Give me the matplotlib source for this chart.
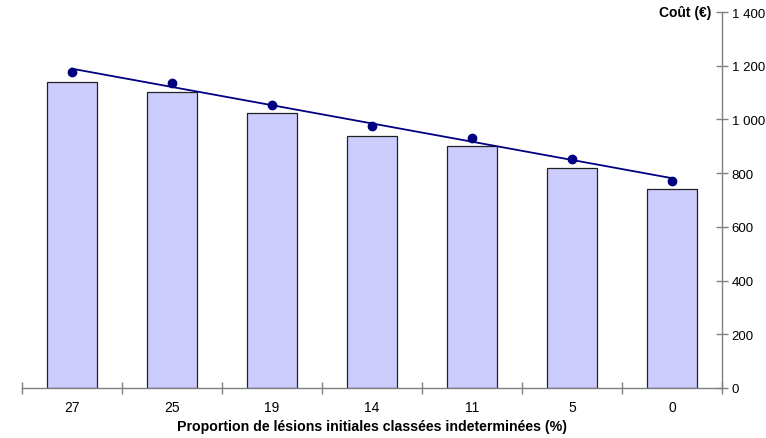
import matplotlib
matplotlib.use("Agg")
import matplotlib.pyplot as plt
from matplotlib.ticker import FuncFormatter, FixedLocator, NullFormatter
import numpy as np

plt.rcParams['font.family'] = ['Liberation Sans', 'DejaVu Sans']

categories = ["27", "25", "19", "14", "11", "5", "0"]
bar_costs = [1139, 1102, 1024, 938, 901, 819, 741]
point_costs = [1176, 1135, 1054, 975, 931, 853, 771]
y_ticks = [0, 200, 400, 600, 800, 1000, 1200, 1400]

fig = plt.figure(figsize=(7.66, 4.39), dpi=100)
ax = fig.add_axes([22 / 766, 1 - 389 / 439, 700 / 766, 376 / 439])

x = np.arange(len(categories))
ax.bar(x, bar_costs, width=0.5, color="#CCCCFF", edgecolor="#222222",
       linewidth=0.9, zorder=2)

# linear trend through the point series
slope, intercept = np.polyfit(x, point_costs, 1)
ax.plot(x, slope * x + intercept, color="#000080", linewidth=1.3, zorder=3)
ax.plot(x, point_costs, linestyle="none", marker="o", markersize=6,
        color="#000080", zorder=4)

ax.set_xlim(-0.5, len(categories) - 0.5)
ax.set_ylim(0, 1400)

for s in ("top", "left"):
    ax.spines[s].set_visible(False)
for s in ("bottom", "right"):
    ax.spines[s].set_color("#808080")
    ax.spines[s].set_linewidth(1.0)

ax.yaxis.tick_right()
ax.set_yticks(y_ticks)
ax.yaxis.set_major_formatter(FuncFormatter(lambda v, p: f"{int(v):,}".replace(",", " ")))
ax.tick_params(axis="y", direction="inout", length=8, width=1.0, color="#808080",
               labelsize=9.5, pad=3)

ax.xaxis.set_major_locator(FixedLocator(np.arange(-0.5, len(categories), 1.0)))
ax.xaxis.set_major_formatter(NullFormatter())
ax.xaxis.set_minor_locator(FixedLocator(x))
ax.set_xticklabels(categories, minor=True)
ax.tick_params(axis="x", which="major", direction="inout", length=8, width=1.0,
               color="#808080")
ax.tick_params(axis="x", which="minor", length=0, labelsize=10, pad=9)

ax.set_xlabel("Proportion de lésions initiales classées indeterminées (%)",
              fontsize=10.2, fontweight="bold", labelpad=3)
ax.text(0.985, 1400, "Coût (€)", transform=ax.get_yaxis_transform(),
        ha="right", va="center", fontsize=10, fontweight="bold")

fig.savefig("out.png", dpi=100)
